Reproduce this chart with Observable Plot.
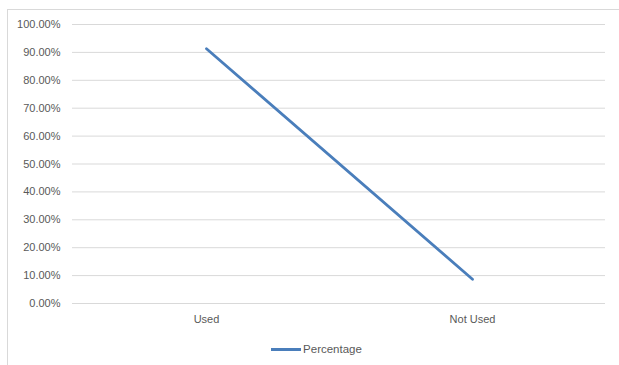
<!DOCTYPE html>
<html>
<head>
<meta charset="utf-8">
<script src="https://cdn.jsdelivr.net/npm/d3@7"></script>
<script src="https://cdn.jsdelivr.net/npm/@observablehq/plot@0.6"></script>
<style>
  html, body { margin: 0; padding: 0; background: #fff; }
  body { width: 619px; height: 365px; position: relative; overflow: hidden;
         font-family: "Liberation Sans", Arial, sans-serif; }
  #frame { position: absolute; left: 7px; top: 9px; width: 620px; height: 400px;
           border: 1px solid #d9d9d9; box-sizing: border-box; }
  #chart { position: absolute; left: 0; top: 0; }
  #legend { position: absolute; left: 7px; top: 340px; width: 619px; height: 18px;
            display: flex; align-items: center; justify-content: center;
            font-size: 11.5px; color: #595959; }
  #legend .swatch { width: 30px; height: 3px; background: #4a7ebb; margin-right: 2px; }
</style>
</head>
<body>
<div id="frame"></div>
<div id="chart"></div>
<div id="legend"><span class="swatch"></span><span>Percentage</span></div>
<script>
// Share of respondents, by usage
const categories = ["Used", "Not Used"];
const percentages = [0.913, 0.087];
const yTicks = [0, 0.1, 0.2, 0.3, 0.4, 0.5, 0.6, 0.7, 0.8, 0.9, 1.0];
const seriesName = "Percentage";

const rows = categories.map((c, i) => ({category: c, value: percentages[i], series: seriesName}));

const chart = Plot.plot({
  width: 619,
  height: 335,
  marginLeft: 72,
  marginRight: 14,
  marginTop: 24,
  marginBottom: 32,
  style: {fontFamily: "Liberation Sans, Arial, sans-serif", fontSize: "11px", color: "#595959", background: "transparent"},
  x: {type: "point", domain: categories, padding: 0.5, label: null},
  y: {domain: [0, 1], label: null},
  marks: [
    Plot.gridY(yTicks, {stroke: "#d9d9d9", strokeOpacity: 1, strokeWidth: 1}),
    Plot.axisY(yTicks, {tickSize: 0, tickPadding: 12, tickFormat: d => (d * 100).toFixed(2) + "%", fill: "#595959"}),
    Plot.axisX({tickSize: 0, tickPadding: 12, fill: "#595959"}),
    Plot.line(rows, {x: "category", y: "value", stroke: "#4a7ebb", strokeWidth: 2.8, strokeLinecap: "round"})
  ]
});
document.getElementById("chart").appendChild(chart);
</script>
</body>
</html>
